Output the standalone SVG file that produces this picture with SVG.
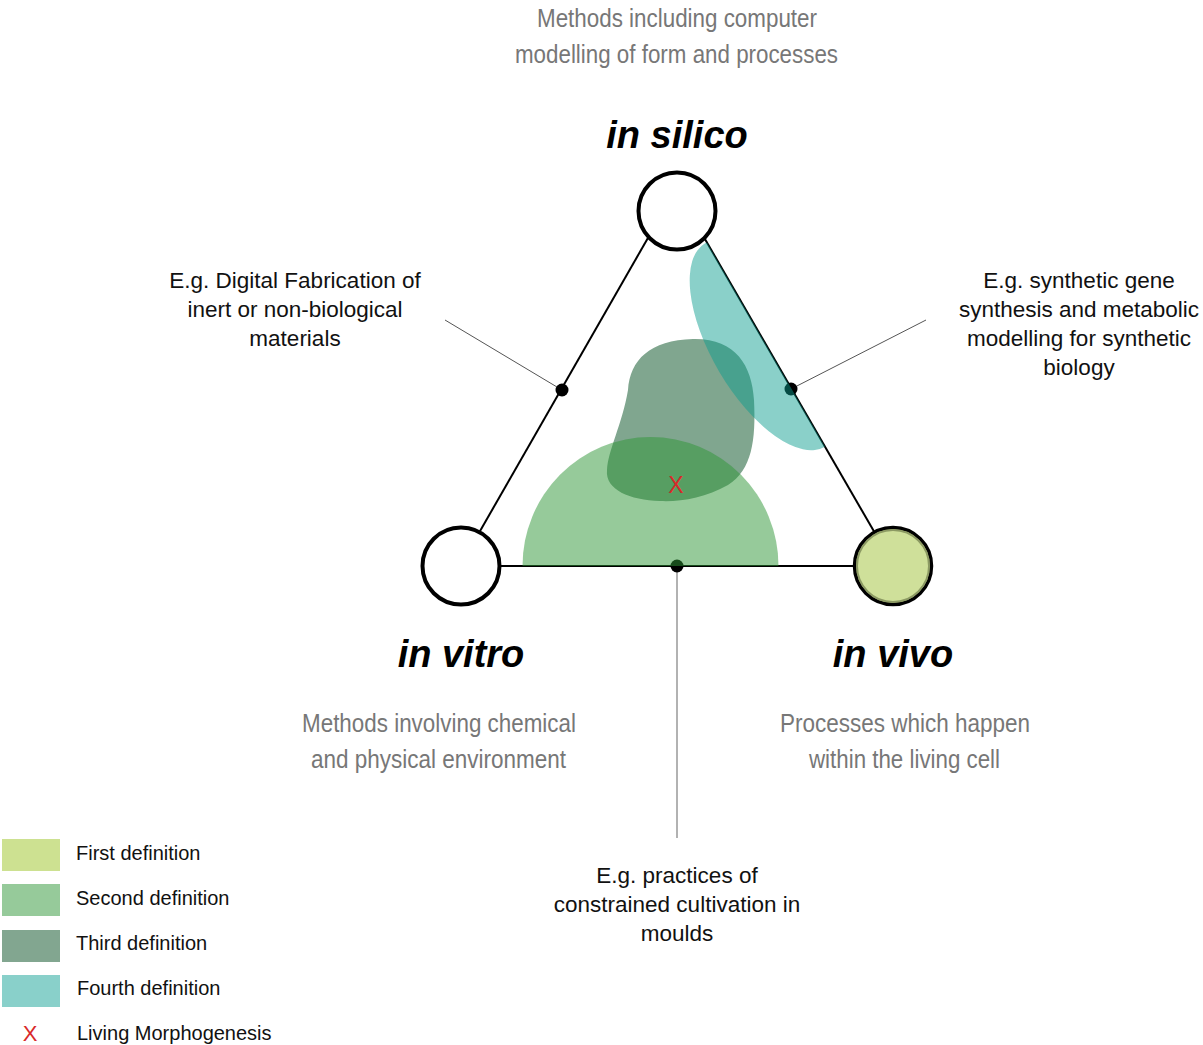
<svg xmlns="http://www.w3.org/2000/svg" width="1203" height="1045" viewBox="0 0 1203 1045">
  <style>
    .edge { stroke: #000; stroke-width: 2; fill: none; }
    .leader { stroke: #555; stroke-width: 1; fill: none; }
    .leader-v { stroke: #999; stroke-width: 1.5; fill: none; }
    .dot { fill: #000; }
    .node { fill: #fff; stroke: #000; stroke-width: 4; }
    .title { font-family: "Liberation Sans", Arial, sans-serif; font-weight: bold; font-style: italic; font-size: 38px; fill: #000; text-anchor: middle; }
    .desc { font-family: "Liberation Sans Narrow", "Liberation Sans", Arial, sans-serif; font-size: 26px; fill: #777; text-anchor: middle; }
    .note { font-family: "Liberation Sans", Arial, sans-serif; font-size: 22.5px; fill: #111; text-anchor: middle; }
    .legend-text { font-family: "Liberation Sans", Arial, sans-serif; font-size: 20px; fill: #111; }
    .mark { font-family: "Liberation Sans", Arial, sans-serif; fill: #d9292a; text-anchor: middle; }
  </style>
  <defs>
    <clipPath id="triangle-clip">
      <polygon points="676,189 460,566 894,566"/>
    </clipPath>
  </defs>

  <rect width="1203" height="1045" fill="#fff"/>

  <!-- triangle edges, leader lines and their anchor dots -->
  <g id="connectors">
    <line class="edge" x1="676" y1="189" x2="460" y2="566"/>
    <line class="edge" x1="676" y1="189" x2="894" y2="566"/>
    <line class="edge" x1="460" y1="566" x2="894" y2="566"/>
    <line class="leader" x1="445" y1="320" x2="562" y2="390"/>
    <line class="leader" x1="926" y1="320" x2="791" y2="389"/>
    <line class="leader-v" x1="677" y1="566" x2="677" y2="838"/>
    <circle class="dot" cx="562" cy="390" r="6.5"/>
    <circle class="dot" cx="791" cy="389" r="6.5"/>
    <circle class="dot" cx="677" cy="566" r="6.5"/>
  </g>

  <!-- definition regions -->
  <g id="regions">
    <path id="third-definition" fill="#80a68f"
          d="M 628,390 C 630,360 650,340 693,339 C 735,338 752,365 754,400 C 756,440 752,470 728,485 C 705,498 680,502 660,501 C 630,500 605,490 607,470 C 608,450 622,425 628,390 Z"/>
    <path id="second-definition" fill="#2d9535" fill-opacity="0.5"
          d="M 522.5,566 A 128,129 0 0 1 778.5,566 Z"/>
    <g clip-path="url(#triangle-clip)">
      <ellipse id="fourth-definition" cx="765" cy="345" rx="118" ry="53" fill="#0a9d8e" fill-opacity="0.48" transform="rotate(59.5 765 345)"/>
    </g>
  </g>

  <!-- in silico -->
  <g id="node-in-silico">
    <circle class="node" cx="677" cy="211" r="38.5"/>
    <text class="title" x="677" y="148">in silico</text>
    <text class="desc" x="677" y="27" textLength="280" lengthAdjust="spacingAndGlyphs">Methods including computer</text>
    <text class="desc" x="676.5" y="63" textLength="323" lengthAdjust="spacingAndGlyphs">modelling of form and processes</text>
  </g>

  <!-- in vitro -->
  <g id="node-in-vitro">
    <circle class="node" cx="461" cy="566" r="38.5"/>
    <text class="title" x="461" y="667">in vitro</text>
    <text class="desc" x="439" y="732" textLength="274" lengthAdjust="spacingAndGlyphs">Methods involving chemical</text>
    <text class="desc" x="438.5" y="768" textLength="255" lengthAdjust="spacingAndGlyphs">and physical environment</text>
  </g>

  <!-- in vivo -->
  <g id="node-in-vivo">
    <circle cx="893" cy="566" r="38.5" fill="#cfe09a" stroke="#000" stroke-width="3.5"/>
    <circle cx="893" cy="566" r="36" fill="none" stroke="#8c9a63" stroke-width="2"/>
    <text class="title" x="893" y="667">in vivo</text>
    <text class="desc" x="905" y="732" textLength="250" lengthAdjust="spacingAndGlyphs">Processes which happen</text>
    <text class="desc" x="904.5" y="768" textLength="191" lengthAdjust="spacingAndGlyphs">within the living cell</text>
  </g>

  <!-- example annotations -->
  <g id="note-silico-vitro">
    <text class="note" x="295" y="288">E.g. Digital Fabrication of</text>
    <text class="note" x="295" y="317">inert or non-biological</text>
    <text class="note" x="295" y="346">materials</text>
  </g>
  <g id="note-silico-vivo">
    <text class="note" x="1079" y="288">E.g. synthetic gene</text>
    <text class="note" x="1079" y="317">synthesis and metabolic</text>
    <text class="note" x="1079" y="346">modelling for synthetic</text>
    <text class="note" x="1079" y="375">biology</text>
  </g>
  <g id="note-vitro-vivo">
    <text class="note" x="677" y="883">E.g. practices of</text>
    <text class="note" x="677" y="912">constrained cultivation in</text>
    <text class="note" x="677" y="941">moulds</text>
  </g>

  <!-- living morphogenesis marker -->
  <g id="marker-living-morphogenesis">
    <text class="mark" x="676" y="493" font-size="23">X</text>
  </g>

  <!-- legend -->
  <g id="legend">
    <rect x="2" y="839" width="58" height="32" fill="#cde191"/>
    <text class="legend-text" x="76" y="860">First definition</text>
    <rect x="2" y="884" width="58" height="32" fill="#96ca9a"/>
    <text class="legend-text" x="76" y="905">Second definition</text>
    <rect x="2" y="930" width="58" height="32" fill="#82a690"/>
    <text class="legend-text" x="76" y="950">Third definition</text>
    <rect x="2" y="975" width="58" height="32" fill="#89d0ca"/>
    <text class="legend-text" x="77" y="995">Fourth definition</text>
    <text class="mark" x="30" y="1041" font-size="22">X</text>
    <text class="legend-text" x="77" y="1040">Living Morphogenesis</text>
  </g>
</svg>
